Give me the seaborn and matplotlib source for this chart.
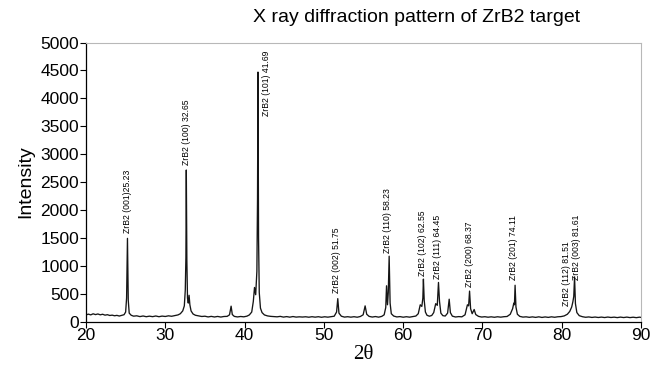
import numpy as np
import pandas as pd
import seaborn as sns
import matplotlib.pyplot as plt

# 2-theta / intensity pairs
two_theta = [
    20.0, 20.3, 20.6, 20.9, 21.2, 21.5, 21.8, 22.1, 22.4, 22.7, 23.0, 23.3, 23.6, 23.9, 24.2, 24.5, 24.8,
    25.0, 25.12, 25.23, 25.33, 25.45, 25.7, 26.0, 26.4, 26.8, 27.2, 27.6, 28.0, 28.4, 28.8, 29.2, 29.6,
    30.0, 30.4, 30.8, 31.2, 31.6, 31.9, 32.2, 32.4, 32.52, 32.6, 32.65, 32.72, 32.8, 32.9, 33.0, 33.1,
    33.25, 33.5, 33.8, 34.2, 34.6, 35.0, 35.4, 35.8, 36.2, 36.6, 37.0, 37.4, 37.8, 38.1, 38.3, 38.45,
    38.7, 39.1, 39.5, 39.9, 40.3, 40.6, 40.9, 41.1, 41.25, 41.4, 41.55, 41.63, 41.69, 41.76, 41.85,
    42.0, 42.2, 42.5, 42.9, 43.3, 43.7, 44.1, 44.5, 44.9, 45.3, 45.7, 46.1, 46.5, 46.9, 47.3, 47.7,
    48.1, 48.5, 48.9, 49.3, 49.7, 50.1, 50.5, 50.9, 51.3, 51.6, 51.75, 51.9, 52.2, 52.6, 53.0, 53.4,
    53.8, 54.2, 54.6, 54.95, 55.2, 55.4, 55.7, 56.1, 56.5, 56.9, 57.3, 57.6, 57.8, 57.9, 58.02, 58.12,
    58.23, 58.35, 58.5, 58.8, 59.2, 59.6, 60.0, 60.4, 60.8, 61.2, 61.6, 61.9, 62.15, 62.35, 62.48,
    62.55, 62.65, 62.8, 63.0, 63.3, 63.6, 63.85, 64.1, 64.3, 64.45, 64.58, 64.75, 65.0, 65.3, 65.6,
    65.8, 65.95, 66.2, 66.6, 67.0, 67.4, 67.8, 68.1, 68.25, 68.37, 68.5, 68.7, 68.95, 69.15, 69.5,
    69.9, 70.3, 70.7, 71.1, 71.5, 71.9, 72.3, 72.7, 73.1, 73.5, 73.8, 73.95, 74.03, 74.11, 74.22, 74.4,
    74.7, 75.1, 75.5, 75.9, 76.3, 76.7, 77.1, 77.5, 77.9, 78.3, 78.7, 79.1, 79.5, 79.9, 80.3, 80.7,
    81.0, 81.25, 81.4, 81.51, 81.61, 81.72, 81.9, 82.2, 82.6, 83.0, 83.4, 83.8, 84.2, 84.6, 85.0,
    85.4, 85.8, 86.2, 86.6, 87.0, 87.4, 87.8, 88.2, 88.6, 89.0, 89.4, 89.8, 90.0,
]
intensity = [
    118, 132, 119, 138, 124, 135, 120, 130, 114, 122, 108, 114, 103, 110, 98, 110, 122,
    170, 420, 1490, 380, 150, 112, 96, 102, 88, 99, 86, 96, 87, 99, 86, 97,
    90, 102, 94, 107, 118, 140, 190, 280, 560, 1150, 2715, 1100, 420, 330, 470, 300,
    190, 135, 112, 100, 90, 95, 82, 92, 81, 91, 80, 90, 92, 120, 275, 125,
    92, 82, 90, 84, 96, 118, 170, 360, 610, 480, 900, 2200, 4470, 1500, 520,
    240, 160, 118, 100, 92, 88, 84, 92, 79, 88, 78, 89, 79, 84, 80, 85,
    77, 86, 78, 86, 76, 85, 78, 86, 95, 170, 410, 150, 95, 79, 86, 78,
    86, 77, 90, 120, 280, 130, 92, 80, 89, 78, 92, 120, 250, 640, 300, 520,
    1170, 330, 140, 98, 82, 88, 77, 86, 78, 89, 98, 140, 300, 270, 420,
    760, 380, 170, 112, 95, 108, 160, 320, 290, 700, 360, 150, 105, 98, 150,
    400, 160, 96, 81, 88, 84, 120, 300, 280, 545, 230, 140, 215, 125, 92,
    80, 86, 77, 84, 76, 85, 78, 86, 90, 130, 230, 330, 300, 650, 260, 130,
    92, 79, 84, 75, 83, 74, 84, 73, 82, 74, 84, 76, 85, 88, 100, 130,
    180, 260, 355, 450, 800, 320, 160, 105, 86, 76, 82, 73, 80, 72, 79,
    71, 80, 72, 78, 70, 79, 71, 79, 70, 77, 69, 78, 73,
]

# peak labels and where their text sits (bottom of rotated text, top for 41.69)
peak_labels = ["ZrB2 (001)25.23", "ZrB2 (100) 32.65", "ZrB2 (101) 41.69", "ZrB2 (002) 51.75",
               "ZrB2 (110) 58.23", "ZrB2 (102) 62.55", "ZrB2 (111) 64.45", "ZrB2 (200) 68.37",
               "ZrB2 (201) 74.11", "ZrB2 (112) 81.51", "ZrB2 (003) 81.61"]
label_x = [25.25, 32.65, 42.8, 51.6, 58.0, 62.45, 64.3, 68.3, 73.95, 80.55, 81.9]
label_y = [1580, 2800, 4850, 510, 1230, 820, 760, 620, 750, 280, 750]

df = pd.DataFrame({"two_theta": two_theta, "intensity": intensity})

sns.set_theme(style="white")
plt.rcParams["font.family"] = ["Liberation Sans", "DejaVu Sans"]
plt.rcParams["text.color"] = "black"

fig = plt.figure(figsize=(6.64, 3.69), dpi=100)
ax = fig.add_axes([0.1295, 0.1287, 0.836, 0.7561])

sns.lineplot(data=df, x="two_theta", y="intensity", ax=ax, color="#151515",
             linewidth=0.95, estimator=None)

for txt, lx, ly in zip(peak_labels, label_x, label_y):
    va = "top" if txt.endswith("41.69") else "bottom"
    ax.text(lx, ly, txt, rotation=90, fontsize=6.2, ha="center", va=va, color="black")

ax.set_xlim(20, 90)
ax.set_ylim(0, 5000)
ax.set_xticks(range(20, 91, 10))
ax.set_yticks(range(0, 5001, 500))
ax.tick_params(axis="both", direction="out", length=4, width=0.8, colors="black",
               labelcolor="black", labelsize=12.5, left=True, bottom=True, pad=1)
ax.set_xlabel("2θ", fontsize=15, labelpad=1, color="black",
              family=["Liberation Serif", "DejaVu Serif"])
ax.set_ylabel("Intensity", fontsize=14, labelpad=4, color="black")

for side in ["left", "bottom"]:
    ax.spines[side].set_color("black")
    ax.spines[side].set_linewidth(0.9)
for side in ["top", "right"]:
    ax.spines[side].set_color("#b8b8b8")
    ax.spines[side].set_linewidth(0.8)

fig.text(0.627, 0.952, "X ray diffraction pattern of ZrB2 target", ha="center", va="center",
         fontsize=14, color="black")

fig.savefig("out.png", dpi=100)
